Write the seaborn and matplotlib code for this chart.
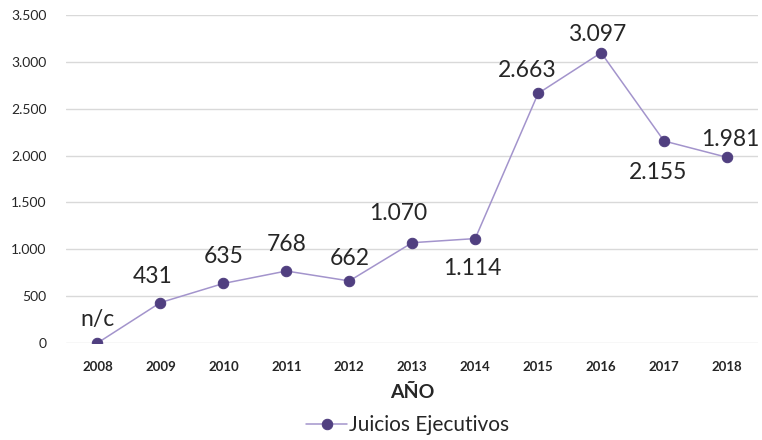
import matplotlib
matplotlib.use("Agg")
import matplotlib.pyplot as plt
import seaborn as sns
import pandas as pd

years = ["2008", "2009", "2010", "2011", "2012", "2013", "2014", "2015", "2016", "2017", "2018"]
values = [0, 431, 635, 768, 662, 1070, 1114, 2663, 3097, 2155, 1981]
labels = ["n/c", "431", "635", "768", "662", "1.070", "1.114", "2.663", "3.097", "2.155", "1.981"]
# label offsets in pixels (dx, dy; dy positive = up)
offsets = [(0, 23), (-8, 26), (0, 27), (0, 27), (0, 22), (-14, 29), (-3, -30), (-11, 23), (-4, 18), (-6, -31), (3, 18)]
yticks = [0, 500, 1000, 1500, 2000, 2500, 3000, 3500]
ytick_labels = ["0", "500", "1.000", "1.500", "2.000", "2.500", "3.000", "3.500"]

sns.set_theme(style="white")
plt.rcParams['font.family'] = ['Lato', 'DejaVu Sans']

df = pd.DataFrame({"year": years, "value": values})

fig = plt.figure(figsize=(7.62, 4.4), dpi=100)
ax = fig.add_axes([0.0866, 0.2205, 0.9088, 0.7455])

for y in yticks:
    ax.axhline(y, color="#d9d9d9", lw=1, zorder=0)

sns.lineplot(data=df, x="year", y="value", ax=ax, color="#a394cc", lw=1.1,
             marker="o", markersize=7.5, markerfacecolor="#503f80",
             markeredgecolor="#503f80", label="Juicios Ejecutivos", sort=False)

for i, (lab, v, (dx, dy)) in enumerate(zip(labels, values, offsets)):
    ax.annotate(lab, (i, v), xytext=(dx * 0.72, dy * 0.72), textcoords="offset points",
                ha="center", va="center", fontsize=16.5, color="#262626")

ax.set_xlim(-0.5, len(years) - 0.5)
ax.set_ylim(0, 3500)
ax.set_yticks(yticks)
ax.set_yticklabels(ytick_labels, fontsize=10, color="#262626")
ax.set_xticks(range(len(years)))
ax.set_xticklabels(years, fontsize=9.5, fontweight="bold", color="#262626")
ax.tick_params(axis="x", pad=13, length=0)
ax.tick_params(axis="y", pad=14, length=0)
ax.set_xlabel("AÑO", fontsize=14, fontweight="bold", color="#262626", labelpad=8)
ax.set_ylabel("")
for s in ax.spines.values():
    s.set_visible(False)

handles, labs = ax.get_legend_handles_labels()
ax.get_legend().remove()
leg = fig.legend(handles, labs, loc="center", bbox_to_anchor=(0.535, 0.034), frameon=False,
                 fontsize=15, handlelength=2.0, handletextpad=0.1)
for t in leg.get_texts():
    t.set_color("#262626")

fig.savefig("out.png", dpi=100)
